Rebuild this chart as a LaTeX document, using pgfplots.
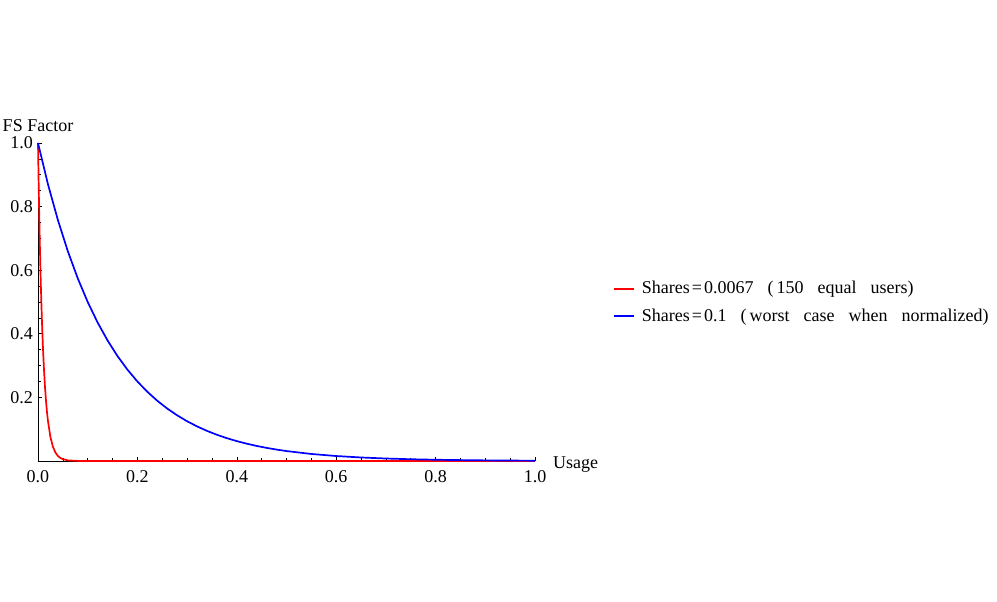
\documentclass[border=0pt]{standalone}
\usepackage{fontspec}
\setmainfont{Liberation Serif}
\usepackage{pgfplots}
\pgfplotsset{compat=1.18}
\newcommand{\ws}{\hspace{14pt}}
\begin{document}
\fontsize{18}{21}\selectfont
\begin{tikzpicture}
\useasboundingbox (0pt,0pt) rectangle (997pt,602pt);
\begin{axis}[
  at={(38pt,141pt)}, anchor=south west,
  scale only axis, width=497pt, height=318pt,
  xmin=0, xmax=1, ymin=0, ymax=1,
  clip=false,
  axis lines=left,
  axis line style={-, line width=0.8pt, black},
  xtick={0,0.2,0.4,0.6,0.8,1},
  ytick={0.2,0.4,0.6,0.8,1},
  minor tick num=3,
  tick align=inside,
  major tick length=4pt, minor tick length=2.5pt,
  tick style={black, line width=0.6pt},
  xticklabel style={yshift=-3pt},
  yticklabel style={xshift=1pt},
  /pgf/number format/.cd, fixed, fixed zerofill, precision=1, assume math mode=true,
  /pgfplots/.cd,
  every axis x label/.style={at={(rel axis cs:1,0)}, anchor=west, xshift=12pt, yshift=-4pt},
  every axis y label/.style={at={(rel axis cs:0,1)}, anchor=base, yshift=11.5pt, inner sep=0pt},
  xlabel={Usage}, ylabel={FS Factor},
  legend style={at={(axis cs:1.151,0.498)}, anchor=west, draw=none, fill=none, row sep=8pt},
  legend cell align=left,
  legend image code/.code={\draw[#1] (0pt,0pt) -- (20pt,0pt); \path (25pt,0pt);},
]
\addplot[red, line width=1.7pt] coordinates {
(0,1) (0.001,0.90171) (0.002,0.81307) (0.003,0.73317) (0.004,0.66113) (0.005,0.59615)
(0.006,0.53755) (0.008,0.43706) (0.010,0.35538) (0.012,0.28899) (0.014,0.23497)
(0.016,0.19104) (0.018,0.15531) (0.020,0.12627) (0.025,0.07528) (0.030,0.04488)
(0.035,0.02676) (0.040,0.01595) (0.045,0.00951) (0.050,0.00567) (0.060,0.00202)
(0.080,0.00026) (0.100,0.00003) (0.2,0) (0.4,0) (0.6,0) (0.8,0) (1,0)
};
\addlegendentry{Shares\hspace{2pt}=\hspace{2pt}0.0067\ws(\hspace{3pt}150\ws equal\ws users)}
\addplot[blue, line width=1.7pt] coordinates {
(0,1) (0.02,0.870551) (0.04,0.757858) (0.06,0.659754) (0.08,0.574349) (0.10,0.5)
(0.12,0.435275) (0.14,0.378929) (0.16,0.329877) (0.18,0.287175) (0.20,0.25)
(0.22,0.217638) (0.24,0.189465) (0.26,0.164938) (0.28,0.143587) (0.30,0.125)
(0.32,0.108819) (0.34,0.094732) (0.36,0.082469) (0.38,0.071794) (0.40,0.0625)
(0.42,0.054409) (0.44,0.047366) (0.46,0.041235) (0.48,0.035897) (0.50,0.03125)
(0.55,0.022097) (0.60,0.015625) (0.65,0.011049) (0.70,0.0078125) (0.75,0.005524)
(0.80,0.003906) (0.85,0.002762) (0.90,0.001953) (0.95,0.001381) (1.00,0.000977)
};
\addlegendentry{Shares\hspace{2pt}=\hspace{2pt}0.1\ws(\hspace{3pt}worst\ws case\ws when\ws normalized)}
\end{axis}
\end{tikzpicture}
\end{document}
